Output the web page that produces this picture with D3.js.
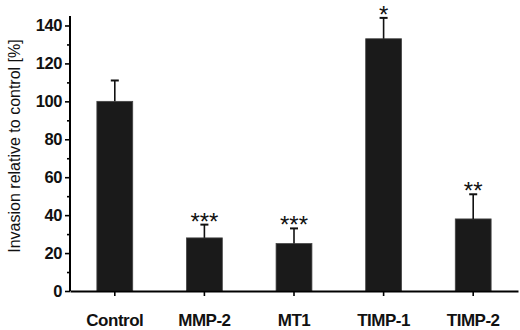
<!DOCTYPE html>
<html>
<head>
    <script src="https://d3js.org/d3.v7.min.js"></script>
    <style>
        body { margin: 0; background: #fff; }
        svg { font-family: "Liberation Sans", Arial, sans-serif; }
    </style>
</head>
<body>
    <script>
        // data
        const groups = ["Control", "MMP-2", "MT1", "TIMP-1", "TIMP-2"];
        const means = [100, 28, 25, 133, 38];
        const errors = [11, 7, 8, 11, 13];
        const stars = ["", "***", "***", "*", "**"];
        const yTicks = [0, 20, 40, 60, 80, 100, 120, 140];
        const yMinor = [10, 30, 50, 70, 90, 110, 130];

        const width = 520, height = 330;
        const margin = { top: 16, right: 2, bottom: 39, left: 70 };

        const svg = d3.select("body").append("svg")
            .attr("width", width)
            .attr("height", height);

        const x = d3.scaleBand()
            .domain(groups)
            .range([margin.left, width - margin.right])
            .paddingInner(0.6)
            .paddingOuter(0.3);

        const y = d3.scaleLinear()
            .domain([0, 145])
            .range([height - margin.bottom, margin.top]);

        // bars
        svg.selectAll("rect.bar")
            .data(groups)
            .enter().append("rect")
            .attr("class", "bar")
            .attr("x", d => x(d))
            .attr("y", (d, i) => y(means[i]))
            .attr("width", x.bandwidth())
            .attr("height", (d, i) => y(0) - y(means[i]))
            .attr("fill", "#1a1a1a")
            .attr("stroke", "#444")
            .attr("stroke-width", 0.8);

        // error bars (upper only)
        const cx = d => x(d) + x.bandwidth() / 2;
        svg.selectAll("line.err")
            .data(groups)
            .enter().append("line")
            .attr("x1", cx).attr("x2", cx)
            .attr("y1", (d, i) => y(means[i]))
            .attr("y2", (d, i) => y(means[i] + errors[i]))
            .attr("stroke", "#111").attr("stroke-width", 1.6);
        svg.selectAll("line.cap")
            .data(groups)
            .enter().append("line")
            .attr("x1", d => cx(d) - 4).attr("x2", d => cx(d) + 4)
            .attr("y1", (d, i) => y(means[i] + errors[i]))
            .attr("y2", (d, i) => y(means[i] + errors[i]))
            .attr("stroke", "#111").attr("stroke-width", 2);

        // significance stars
        svg.selectAll("text.star")
            .data(groups)
            .enter().append("text")
            .attr("x", cx)
            .attr("y", (d, i) => y(means[i] + errors[i]) + 5)
            .attr("text-anchor", "middle")
            .attr("font-size", 24)
            .attr("fill", "#111")
            .text((d, i) => stars[i]);

        // y axis
        const yAxis = svg.append("g")
            .attr("transform", `translate(${margin.left},0)`)
            .call(d3.axisLeft(y).tickValues(yTicks).tickSize(5).tickPadding(3));
        yAxis.append("g")
            .call(d3.axisLeft(y).tickValues(yMinor).tickSize(3).tickFormat(""))
            .select(".domain").remove();
        yAxis.select(".domain")
            .attr("d", `M0,${margin.top}V${y(0)}`);
        yAxis.selectAll("line").attr("stroke-width", 1.6);
        yAxis.select(".domain").attr("stroke-width", 2);
        yAxis.selectAll("text")
            .attr("font-size", 16.5).attr("font-weight", "bold")
            .attr("font-family", "Liberation Sans, Arial, sans-serif")
            .attr("letter-spacing", -0.4)
            .attr("fill", "#111");

        // x axis
        const xAxis = svg.append("g")
            .attr("transform", `translate(0,${y(0)})`)
            .call(d3.axisBottom(x).tickSize(5).tickSizeOuter(0).tickPadding(18));
        xAxis.select(".domain").attr("stroke-width", 2);
        xAxis.selectAll("line").attr("stroke-width", 1.6);
        xAxis.selectAll("text")
            .attr("font-size", 17).attr("font-weight", "bold")
            .attr("font-family", "Liberation Sans, Arial, sans-serif")
            .attr("letter-spacing", -0.5)
            .attr("fill", "#111");

        // y axis title
        svg.append("text")
            .attr("transform", "rotate(-90)")
            .attr("x", -146)
            .attr("y", 20)
            .attr("text-anchor", "middle")
            .attr("font-size", 16)
            .attr("fill", "#111")
            .text("Invasion relative to control [%]");
    </script>
</body>
</html>
